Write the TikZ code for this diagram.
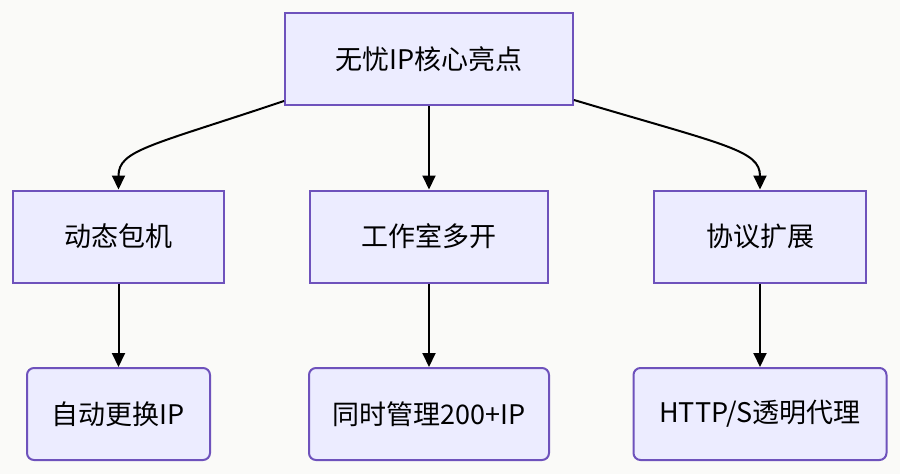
\documentclass[tikz,border=0pt]{standalone}
\usepackage{fontspec}
\newfontfamily\cjk{Noto Sans CJK SC}
\usepackage{xcolor}
\usetikzlibrary{
  arrows.meta,
  positioning,
}
\definecolor{boxfill}{HTML}{ECECFF}
\definecolor{boxline}{HTML}{6E52BC}
\definecolor{paper}{HTML}{FAFAF8}
\tikzset{
  box/.style = {
      rectangle,
      draw=boxline,
      fill=boxfill,
      line width=2pt,
      minimum height=92pt,
      inner sep=0pt,
      font=\cjk\fontsize{27}{32}\selectfont,
      text=black,
    },
  leaf/.style = {
      box,
      rounded corners=7pt,
    },
  link/.style = {
      draw=black,
      line width=2pt,
      -{Triangle[length=14pt,width=13pt]},
    },
}

\begin{document}
\begin{tikzpicture}[x=1pt, y=-1pt]
    \fill[paper] (0,0) rectangle (900,474);
    \useasboundingbox (0,0) rectangle (900,474);

    \node[box, minimum width=288pt] (top) at (429,59) {无忧IP核心亮点};

    \node[box, minimum width=211pt] (dyn)  at (118.5,236.5) {动态包机};
    \node[box, minimum width=238pt] (work) at (429,236.5)   {工作室多开};
    \node[box, minimum width=212pt] (prot) at (760,236.5)   {协议扩展};

    \node[leaf, minimum width=183pt] (auto) at (118.5,414) {自动更换IP};
    \node[leaf, minimum width=240pt] (mgmt) at (429,414)   {同时管理200+IP};
    \node[leaf, minimum width=253pt] (http) at (760,414)   {HTTP/S透明代理};

    \draw[link] ([yshift=5pt]top.south west) .. controls (150,146) and (118.5,150) .. (dyn.north);
    \draw[link] (top) -- (work);
    \draw[link] ([yshift=6pt]top.south east) .. controls (725,145) and (760,150) .. (prot.north);

    \draw[link] (dyn)  -- (auto);
    \draw[link] (work) -- (mgmt);
    \draw[link] (prot) -- (http);
\end{tikzpicture}
\end{document}
